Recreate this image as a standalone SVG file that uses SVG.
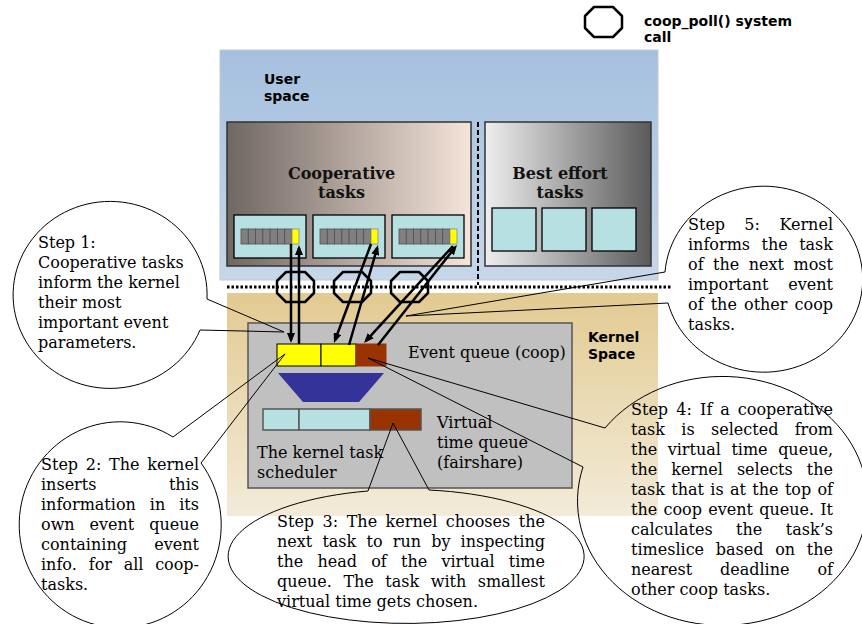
<svg xmlns="http://www.w3.org/2000/svg" xmlns:xlink="http://www.w3.org/1999/xlink" width="862" height="624" viewBox="0 0 862 624">
<style>
.t{font-family:"DejaVu Serif","Liberation Serif",serif;font-size:16px;fill:#000}
.e{text-anchor:end}
.b{font-family:"DejaVu Sans","Liberation Sans",sans-serif;font-weight:bold;font-size:14px;fill:#000}
.bs{font-family:"DejaVu Serif","Liberation Serif",serif;font-weight:bold;font-size:16px;text-anchor:middle;fill:#111}
.bub{fill:none;stroke:#000;stroke-width:1}
.oct{fill:none;stroke:#000;stroke-width:2.5;stroke-linejoin:round}
.arr{stroke:#000;stroke-width:2.5;fill:none;marker-end:url(#ah)}
.cell{fill:#808080;stroke:#505050;stroke-width:0.8}
.cy{fill:#b7e0e3;stroke:#000;stroke-width:1.3}
</style>
<defs>
<linearGradient id="gUser" x1="0" y1="0" x2="0" y2="1"><stop offset="0" stop-color="#a5c0de"/><stop offset="1" stop-color="#c7d7ea"/></linearGradient>
<linearGradient id="gKern" x1="0" y1="0" x2="0" y2="1"><stop offset="0" stop-color="#e2ca91"/><stop offset="1" stop-color="#f3ebd9"/></linearGradient>
<linearGradient id="gCoop" x1="0" y1="0" x2="1" y2="0"><stop offset="0" stop-color="#6f6761"/><stop offset="1" stop-color="#f5e4da"/></linearGradient>
<linearGradient id="gBest" x1="0" y1="0" x2="1" y2="0"><stop offset="0" stop-color="#eeeeee"/><stop offset="1" stop-color="#5a5a5a"/></linearGradient>
<marker id="ah" viewBox="0 0 10 8" refX="7" refY="4" markerWidth="10" markerHeight="8" markerUnits="userSpaceOnUse" orient="auto"><path d="M0,0 L10,4 L0,8 Z" fill="#000"/></marker>
<path id="octa" d="M9,0 H28 L37,9 V21 L28,30 H9 L0,21 V9 Z"/>
<g id="strip">
<rect class="cell" x="0" y="0" width="7.29" height="15"/>
<rect class="cell" x="7.29" y="0" width="7.29" height="15"/>
<rect class="cell" x="14.57" y="0" width="7.29" height="15"/>
<rect class="cell" x="21.86" y="0" width="7.29" height="15"/>
<rect class="cell" x="29.14" y="0" width="7.29" height="15"/>
<rect class="cell" x="36.43" y="0" width="7.29" height="15"/>
<rect class="cell" x="43.71" y="0" width="7.29" height="15"/>
<rect x="51" y="0" width="7" height="15" fill="#ffff00" stroke="#888" stroke-width="0.8"/>
</g>
</defs>

<g id="legend">
<use href="#octa" x="585" y="7" class="oct"/>
<text class="b" x="644" y="26">coop_poll() system</text>
<text class="b" x="644" y="42">call</text>
</g>

<g id="user-space">
<rect x="220" y="50" width="438" height="230" fill="url(#gUser)" stroke="#c4c9cf" stroke-width="1"/>
<text class="b" x="264" y="84">User</text>
<text class="b" x="264" y="101">space</text>
</g>

<g id="kernel-space">
<rect x="227" y="293" width="431" height="223" fill="url(#gKern)"/>
<text class="b" x="588" y="342">Kernel</text>
<text class="b" x="588" y="359">Space</text>
</g>

<g id="boundary">
<line x1="227" y1="287" x2="672" y2="287" stroke="#000" stroke-width="3" stroke-dasharray="2.5 2"/>
<line x1="478" y1="122" x2="478" y2="285" stroke="#000" stroke-width="2" stroke-dasharray="5 3"/>
</g>

<g id="coop-tasks">
<rect x="227" y="122" width="244" height="144" fill="url(#gCoop)" stroke="#333" stroke-width="1.5"/>
<text class="bs" x="341.5" y="179">Cooperative</text>
<text class="bs" x="341.5" y="198">tasks</text>
<rect class="cy" x="234" y="215" width="72" height="43"/>
<rect class="cy" x="313" y="215" width="72" height="43"/>
<rect class="cy" x="392" y="215" width="72" height="43"/>
<use href="#strip" x="241" y="229"/>
<use href="#strip" x="320" y="229"/>
<use href="#strip" x="399" y="229"/>
</g>

<g id="best-effort">
<rect x="485" y="122" width="166" height="144" fill="url(#gBest)" stroke="#333" stroke-width="1.5"/>
<text class="bs" x="560" y="179">Best effort</text>
<text class="bs" x="560" y="198">tasks</text>
<rect class="cy" x="492" y="208" width="44" height="43"/>
<rect class="cy" x="542" y="208" width="44" height="43"/>
<rect class="cy" x="592" y="208" width="44" height="43"/>
</g>

<g id="scheduler">
<rect x="248" y="323" width="324" height="165" fill="#c0c0c0" stroke="#555" stroke-width="1.5"/>
<rect x="277" y="344" width="44" height="22" fill="#ffff00" stroke="#000" stroke-width="1"/>
<rect x="321" y="344" width="35" height="22" fill="#ffff00" stroke="#000" stroke-width="1"/>
<rect x="356" y="344" width="30" height="22" fill="#993300" stroke="#993300" stroke-width="1"/>
<text class="t" x="408" y="358">Event queue (coop)</text>
<path d="M278,373 H384 L359,402 H303 Z" fill="#333399"/>
<rect x="263" y="409" width="36" height="21" fill="#b7e0e3" stroke="#555" stroke-width="1.5"/>
<rect x="299" y="409" width="71" height="21" fill="#b7e0e3" stroke="#555" stroke-width="1.5"/>
<rect x="370" y="409" width="51" height="21" fill="#993300" stroke="#555" stroke-width="1.5"/>
<text class="t" x="437" y="428">Virtual</text>
<text class="t" x="437" y="448">time queue</text>
<text class="t" x="437" y="468">(fairshare)</text>
<text class="t" x="257" y="458">The kernel task</text>
<text class="t" x="257" y="478">scheduler</text>
</g>

<g id="connectors">
<path class="arr" d="M291,244 L291,340"/>
<path class="arr" d="M299,344 L299,248"/>
<path class="arr" d="M371,244 L335,340.2"/>
<path class="arr" d="M349,345 L377.2,247.9"/>
<path class="arr" d="M453,246 L366,340.8"/>
<path class="arr" d="M378,345 L455.1,247.4"/>
</g>

<g id="syscalls">
<use href="#octa" x="277" y="272" class="oct"/>
<use href="#octa" x="334" y="272" class="oct"/>
<use href="#octa" x="391" y="272" class="oct"/>
</g>

<g id="step1">
<path class="bub" d="M207,299 L284,332 L200,330 A97,93.5 0 1 1 207,299 Z"/>
<text class="t" x="38" y="248">Step 1:</text>
<text class="t" x="38" y="268">Cooperative tasks</text>
<text class="t" x="38" y="288">inform the kernel</text>
<text class="t" x="38" y="308">their most</text>
<text class="t" x="38" y="328">important event</text>
<text class="t" x="38" y="348">parameters.</text>
</g>

<g id="step2">
<path class="bub" d="M173,437 L285,354 L201,463 A101,103 0 1 1 173,437 Z"/>
<text class="t" y="470"><tspan x="41">Step</tspan><tspan x="85.8">2:</tspan><tspan x="109.1">The</tspan><tspan x="199" class="e">kernel</tspan></text>
<text class="t" y="490"><tspan x="41">inserts</tspan><tspan x="199" class="e">this</tspan></text>
<text class="t" y="510"><tspan x="41">information</tspan><tspan x="149.8">in</tspan><tspan x="199" class="e">its</tspan></text>
<text class="t" y="530"><tspan x="41">own</tspan><tspan x="89.5">event</tspan><tspan x="199" class="e">queue</tspan></text>
<text class="t" y="550"><tspan x="41">containing</tspan><tspan x="199" class="e">event</tspan></text>
<text class="t" y="570"><tspan x="41">info.</tspan><tspan x="88.8">for</tspan><tspan x="123.7">all</tspan><tspan x="199" class="e">coop-</tspan></text>
<text class="t" x="41" y="590">tasks.</text>
</g>

<g id="step3">
<path class="bub" d="M368,491 L393,423 L429,490 A178,67 0 1 1 368,491 Z"/>
<text class="t" y="527"><tspan x="277">Step</tspan><tspan x="322.6">3:</tspan><tspan x="346.7">The</tspan><tspan x="385.6">kernel</tspan><tspan x="445.8">chooses</tspan><tspan x="545" class="e">the</tspan></text>
<text class="t" y="547"><tspan x="277">next</tspan><tspan x="322.4">task</tspan><tspan x="366.5">to</tspan><tspan x="392.8">run</tspan><tspan x="431.3">by</tspan><tspan x="545" class="e">inspecting</tspan></text>
<text class="t" y="567"><tspan x="277">the</tspan><tspan x="317.4">head</tspan><tspan x="371.2">of</tspan><tspan x="401">the</tspan><tspan x="441.4">virtual</tspan><tspan x="545" class="e">time</tspan></text>
<text class="t" y="587"><tspan x="277">queue.</tspan><tspan x="343.4">The</tspan><tspan x="385.3">task</tspan><tspan x="430.7">with</tspan><tspan x="545" class="e">smallest</tspan></text>
<text class="t" x="277" y="607">virtual time gets chosen.</text>
</g>

<g id="step4">
<path class="bub" d="M583,467 L368,358 L605,428 A145,124.5 0 1 1 583,467 Z"/>
<text class="t" y="415"><tspan x="631">Step</tspan><tspan x="676.3">4:</tspan><tspan x="700.1">If</tspan><tspan x="720.2">a</tspan><tspan x="833" class="e">cooperative</tspan></text>
<text class="t" y="435"><tspan x="631">task</tspan><tspan x="681.3">is</tspan><tspan x="711">selected</tspan><tspan x="833" class="e">from</tspan></text>
<text class="t" y="455"><tspan x="631">the</tspan><tspan x="667.7">virtual</tspan><tspan x="731.4">time</tspan><tspan x="833" class="e">queue,</tspan></text>
<text class="t" y="475"><tspan x="631">the</tspan><tspan x="671.2">kernel</tspan><tspan x="736.9">selects</tspan><tspan x="833" class="e">the</tspan></text>
<text class="t" y="495"><tspan x="631">task</tspan><tspan x="671.3">that</tspan><tspan x="710.3">is</tspan><tspan x="730">at</tspan><tspan x="752.3">the</tspan><tspan x="784.9">top</tspan><tspan x="833" class="e">of</tspan></text>
<text class="t" y="515"><tspan x="631">the</tspan><tspan x="663.5">coop</tspan><tspan x="708.3">event</tspan><tspan x="759.3">queue.</tspan><tspan x="833" class="e">It</tspan></text>
<text class="t" y="535"><tspan x="631">calculates</tspan><tspan x="736.1">the</tspan><tspan x="833" class="e">task’s</tspan></text>
<text class="t" y="555"><tspan x="631">timeslice</tspan><tspan x="715.8">based</tspan><tspan x="775.2">on</tspan><tspan x="833" class="e">the</tspan></text>
<text class="t" y="575"><tspan x="631">nearest</tspan><tspan x="720">deadline</tspan><tspan x="833" class="e">of</tspan></text>
<text class="t" x="631" y="595">other coop tasks.</text>
</g>

<g id="step5">
<path class="bub" d="M668,303 L406,316 L665,272 A99,93 0 1 1 668,303 Z"/>
<text class="t" y="230"><tspan x="688">Step</tspan><tspan x="744.3">5:</tspan><tspan x="833" class="e">Kernel</tspan></text>
<text class="t" y="250"><tspan x="688">informs</tspan><tspan x="761.5">the</tspan><tspan x="833" class="e">task</tspan></text>
<text class="t" y="270"><tspan x="688">of</tspan><tspan x="713.1">the</tspan><tspan x="748.8">next</tspan><tspan x="833" class="e">most</tspan></text>
<text class="t" y="290"><tspan x="688">important</tspan><tspan x="833" class="e">event</tspan></text>
<text class="t" y="310"><tspan x="688">of</tspan><tspan x="710.7">the</tspan><tspan x="744">other</tspan><tspan x="833" class="e">coop</tspan></text>
<text class="t" x="688" y="330">tasks.</text>
</g>
</svg>
